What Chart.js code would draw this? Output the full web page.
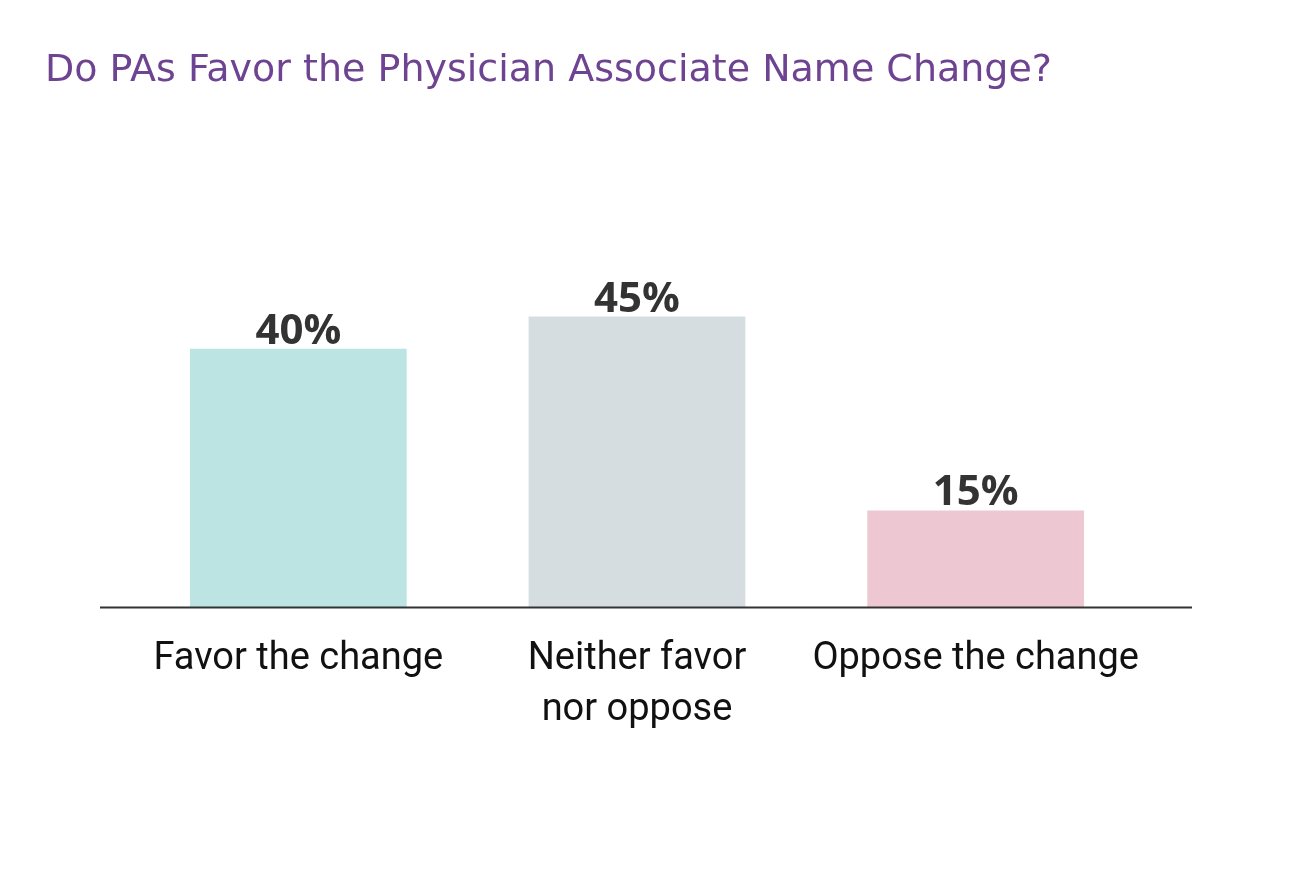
<!DOCTYPE html>
<html>
<head>
<meta charset="utf-8">
<script src="https://cdn.jsdelivr.net/npm/chart.js@4"></script>
<style>
  html, body { margin: 0; padding: 0; background: #fff; }
  #wrap { width: 1290px; height: 878px; }
</style>
</head>
<body>
<div id="wrap"><canvas id="chart" width="1290" height="878"></canvas></div>
<script>
const categories = [['Favor the change'], ['Neither favor', 'nor oppose'], ['Oppose the change']];
const values = [40, 45, 15];
const barColors = ['#bce4e3', '#d6dde0', '#edc8d2'];

// value labels above each bar + baseline that runs past the bars
const valueLabels = {
  id: 'valueLabels',
  afterDatasetsDraw(chart) {
    const ctx = chart.ctx;
    const meta = chart.getDatasetMeta(0);
    const bottom = chart.chartArea.bottom;
    ctx.save();
    ctx.strokeStyle = '#333333';
    ctx.lineWidth = 2;
    ctx.beginPath();
    ctx.moveTo(100, bottom);
    ctx.lineTo(1192, bottom);
    ctx.stroke();
    ctx.font = '700 42px "Open Sans"';
    ctx.fillStyle = '#333333';
    ctx.textAlign = 'center';
    ctx.textBaseline = 'bottom';
    meta.data.forEach((bar, i) => {
      ctx.fillText(values[i] + '%', bar.x, bar.y + 4);
    });
    ctx.restore();
  }
};

new Chart(document.getElementById('chart'), {
  type: 'bar',
  data: {
    labels: categories,
    datasets: [{
      data: values,
      backgroundColor: barColors,
      barPercentage: 0.64,
      categoryPercentage: 1
    }]
  },
  options: {
    responsive: false,
    animation: false,
    layout: { padding: { left: 45, right: 145, top: 0, bottom: 124 } },
    plugins: {
      legend: { display: false },
      tooltip: { enabled: false },
      title: {
        display: true,
        text: 'Do PAs Favor the Physician Associate Name Change?',
        align: 'start',
        color: '#6e4392',
        font: { family: 'DejaVu Sans', size: 38, weight: '400' },
        padding: { top: 48, bottom: 126 }
      }
    },
    scales: {
      y: {
        min: 0,
        max: 60,
        ticks: { display: false },
        grid: { display: false },
        border: { display: false },
        afterFit: (scale) => { scale.width = 84; }
      },
      x: {
        grid: { display: false },
        border: { display: false },
        ticks: {
          color: '#111111',
          padding: 18,
          font: { family: 'Roboto', size: 38, lineHeight: 1.35 }
        }
      }
    }
  },
  plugins: [valueLabels]
});
</script>
</body>
</html>
